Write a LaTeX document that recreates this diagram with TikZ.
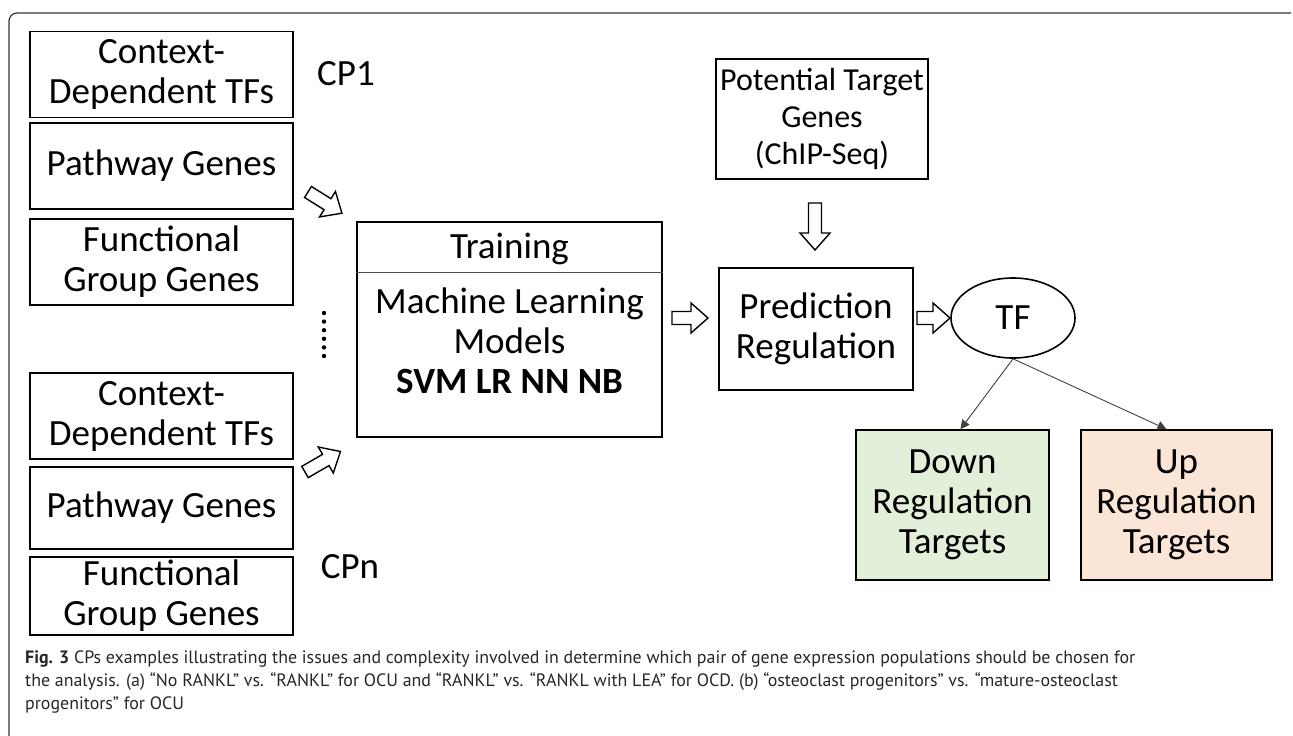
\documentclass[tikz,border=0pt]{standalone}
\usepackage{fontspec}
\setmainfont{Carlito}
\newfontfamily\capfont{PT Sans}
\usetikzlibrary{arrows.meta,calc,shapes.geometric}
\definecolor{downfill}{HTML}{E2EFD9}
\definecolor{upfill}{HTML}{FBE5D6}
\newcommand\hollowarr[3]{\draw[line width=1.4pt, line join=miter, shift={#1}, rotate=#2] (0,-6.5) -- ({#3-17},-6.5) -- ({#3-17},-15) -- (#3,0) -- ({#3-17},15) -- ({#3-17},6.5) -- (0,6.5) -- cycle;}
\newcommand\capone{\textbf{Fig. 3} CPs examples illustrating the issues and complexity involved in determine which pair of gene expression populations should be chosen for}
\newlength\capwd
\begin{document}
\settowidth\capwd{\capfont\fontsize{10}{12}\selectfont\capone}
\pgfmathsetmacro\capsz{10*1110/\capwd}
\pgfmathsetmacro\capbs{1.27*\capsz}
\begin{tikzpicture}[x=1pt,y=1pt,
  box/.style={draw=black, line width=1.6pt, align=center, inner sep=0pt,
    font=\fontsize{37}{40}\selectfont},
  lbl/.style={font=\fontsize{37}{40}\selectfont, inner sep=0pt},
  thin/.style={draw=black!75, line width=0.9pt, -{Triangle[length=9pt,width=9pt]}}]
\useasboundingbox (0,0) rectangle (1293,-736);
% frame
\draw[black!80, line width=1.2pt, rounded corners=8pt] (9,-736) -- (9,-13) -- (1291,-13);
% left upper group
\node[box, minimum width=263, minimum height=86] (ctxa) at (161.5,-74.5) {Context-\\Dependent TFs};
\node[box, minimum width=263, minimum height=86] (patha) at (161.5,-166) {Pathway Genes};
\node[box, minimum width=263, minimum height=86] (funca) at (161.5,-262) {Functional\\Group Genes};
\node[lbl] (cpa) at (346,-74) {CP1};
% dots
\foreach \i in {0,...,5} \fill (324,{-313-8.6*\i}) circle (2.2);
% left lower group
\node[box, minimum width=263, minimum height=86] (ctxb) at (161.5,-416) {Context-\\Dependent TFs};
\node[box, minimum width=263, minimum height=82] (pathb) at (161.5,-508) {Pathway Genes};
\node[box, minimum width=263, minimum height=78] (funcb) at (161.5,-596) {Functional\\Group Genes};
\node[lbl] (cpb) at (350,-567) {CPn};
% training box
\node[box, minimum width=305, minimum height=215] (train) at (509.5,-329.5) {};
\draw[black!70, line width=0.9pt] (train.north west |- 0,-272) -- (train.north east |- 0,-272);
\node[lbl] (traint) at (509.5,-249) {Training};
\node[lbl, align=center] (trainb) at (509.5,-341) {Machine Learning\\Models\\\textbf{SVM LR NN NB}};
% potential target genes
\node[box, minimum width=212, minimum height=120, font=\fontsize{32}{37}\selectfont] (pot) at (822,-119) {Potential Target\\Genes\\(ChIP-Seq)};
% prediction regulation
\node[box, minimum width=194, minimum height=122] (pred) at (816,-329) {Prediction\\Regulation};
% TF
\node[draw=black, line width=1.6pt, ellipse, minimum width=124, minimum height=80, lbl] (tf) at (1013,-318) {TF};
% targets
\node[box, fill=downfill, minimum width=193, minimum height=150] (down) at (952.5,-505) {Down\\Regulation\\Targets};
\node[box, fill=upfill, minimum width=191, minimum height=150] (up) at (1176.5,-505) {Up\\Regulation\\Targets};
\draw[thin] (tf.south) -- ($(down.north)+(8,0)$);
\draw[thin] (tf.south) -- ($(up.north)+(-10,0)$);
% hollow arrows
\hollowarr{(308,-192)}{-32}{40}
\hollowarr{(305,-472)}{30}{41}
\hollowarr{(672,-318)}{0}{36}
\hollowarr{(815,-203)}{-90}{47}
\hollowarr{(917,-318)}{0}{33}
% caption
\node[anchor=north west, align=left, inner sep=0pt, font=\capfont\fontsize{\capsz}{\capbs}\selectfont, text=black!85] (cap) at (25,-651)
{\capone\\
the analysis. (a) “No RANKL” vs. “RANKL” for OCU and “RANKL” vs. “RANKL with LEA” for OCD. (b) “osteoclast progenitors” vs. “mature-osteoclast\\
progenitors” for OCU};
\end{tikzpicture}
\end{document}
